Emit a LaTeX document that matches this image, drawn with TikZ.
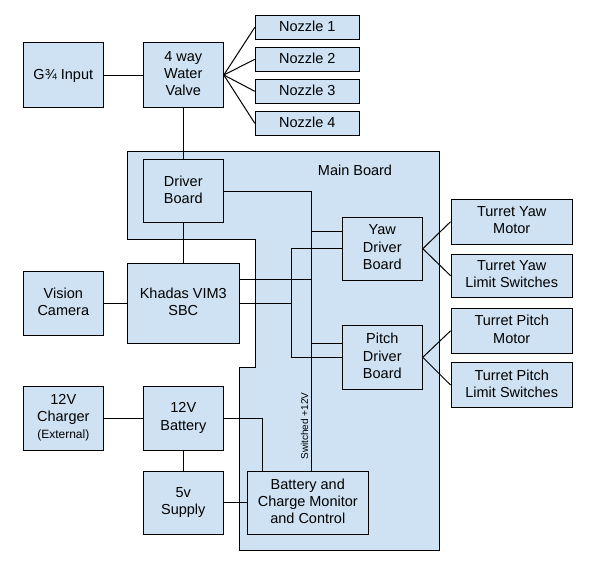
\documentclass[tikz,border=0pt]{standalone}
\usepackage{fontspec}
\setmainfont{Liberation Sans}
\definecolor{boxblue}{HTML}{CFE2F3}
\newcommand{\mystrut}{\rule[-3pt]{0pt}{14pt}}
\begin{document}
\begin{tikzpicture}[x=1pt,y=-1pt,
  box/.style={draw=black, line width=1pt, fill=boxblue, rectangle, inner sep=0pt, align=center,
    font=\fontsize{14.5}{17.3}\selectfont, execute at begin node=\mystrut, execute at end node=\mystrut},
  wire/.style={draw=black, line width=1pt}]
\useasboundingbox (0,0) rectangle (596,574);
% main board outline
\draw[line width=1pt, fill=boxblue] (127.3,151.7) -- (439.3,151.7) -- (439.3,550) -- (239.3,550)
  -- (239.3,367.3) -- (255.3,367.3) -- (255.3,239) -- (127.3,239) -- cycle;
\node[font=\fontsize{14.5}{17}\selectfont] (mb) at (355,170.5) {Main Board};
% boxes
\node[box, minimum width=80pt, minimum height=64.6pt] (gin) at (63.3,75) {G¾ Input};
\node[box, minimum width=80pt, minimum height=64.6pt] (valve) at (183.3,75) {4 way\\Water\\Valve};
\node[box, minimum width=104pt, minimum height=24pt] (n1) at (307.3,27.3) {Nozzle 1};
\node[box, minimum width=104pt, minimum height=24pt] (n2) at (307.3,59.3) {Nozzle 2};
\node[box, minimum width=104pt, minimum height=24pt] (n3) at (307.3,91.3) {Nozzle 3};
\node[box, minimum width=104pt, minimum height=24pt] (n4) at (307.3,123.3) {Nozzle 4};
\node[box, minimum width=80pt, minimum height=63.4pt] (driver) at (183.3,191) {Driver\\Board};
\node[box, minimum width=112pt, minimum height=80pt] (khadas) at (183.3,303.3) {Khadas VIM3\\SBC};
\node[box, minimum width=80pt, minimum height=64pt] (camera) at (63.3,303.3) {Vision\\Camera};
\node[box, minimum width=80pt, minimum height=62.7pt] (yaw) at (382.3,248.7) {Yaw\\Driver\\Board};
\node[box, minimum width=80pt, minimum height=64pt] (pitch) at (382.3,357.3) {Pitch\\Driver\\Board};
\node[box, minimum width=121.3pt, minimum height=44.7pt] (tym) at (511.7,221.7) {Turret Yaw\\Motor};
\node[box, minimum width=121.3pt, minimum height=43.3pt] (tyl) at (511.7,275.7) {Turret Yaw\\Limit Switches};
\node[box, minimum width=121.3pt, minimum height=45pt] (tpm) at (511.7,330.8) {Turret Pitch\\Motor};
\node[box, minimum width=121.3pt, minimum height=44.6pt] (tpl) at (511.7,385) {Turret Pitch\\Limit Switches};
\node[box, minimum width=80pt, minimum height=64pt] (charger) at (63.3,418) {12V\\Charger\\{\fontsize{12}{14}\selectfont (External)}};
\node[box, minimum width=80pt, minimum height=64pt] (battery) at (183.3,418) {12V\\Battery};
\node[box, minimum width=80pt, minimum height=62.7pt] (supply) at (183.3,502.7) {5v\\Supply};
\node[box, minimum width=121pt, minimum height=62.7pt] (bcm) at (307.8,502.7) {Battery and\\Charge Monitor\\and Control};
% bus coordinates
\coordinate (busA) at (311.7,0);
\coordinate (busB) at (291.7,0);
\coordinate (yawhi) at ([yshift=17.7pt]yaw.west);
\coordinate (pitchhi) at ([yshift=14pt]pitch.west);
\coordinate (khhi) at ([yshift=24pt]khadas.east);
\coordinate (battx) at ([xshift=16pt]bcm.north west);
% wires
\draw[wire] (gin) -- (valve);
\foreach \n in {n1,n2,n3,n4} \draw[wire] (valve.east) -- (\n.west);
\draw[wire] (valve) -- (driver);
\draw[wire] (driver) -- (khadas);
\draw[wire] (camera) -- (khadas);
\draw[wire] (driver.east) -| (bcm.north -| busA);
\draw[wire] (yawhi) -- (yawhi -| busA);
\draw[wire] (pitchhi) -- (pitchhi -| busA);
\draw[wire] (khhi) -- (khhi -| busA);
\draw[wire] (yaw.west) -- (yaw.west -| busB) -- (pitch.west -| busB) -- (pitch.west);
\draw[wire] (khadas.east) -- (khadas.east -| busB);
\draw[wire] (yaw.east) -- (tym.west);
\draw[wire] (yaw.east) -- (tyl.west);
\draw[wire] (pitch.east) -- (tpm.west);
\draw[wire] (pitch.east) -- (tpl.west);
\draw[wire] (charger) -- (battery);
\draw[wire] (battery) -- (supply);
\draw[wire] (supply) -- (bcm);
\draw[wire] (battery.east) -| (battx);
\node[rotate=90, font=\fontsize{10}{12}\selectfont] (sw) at (304.5,426) {Switched +12V};
\end{tikzpicture}
\end{document}
